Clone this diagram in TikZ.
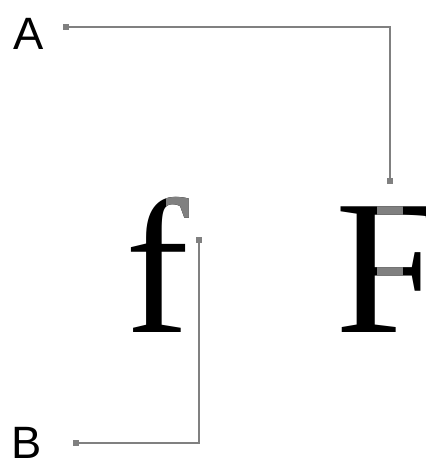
\documentclass[tikz,border=0pt]{standalone}
\usepackage{fontspec}
\setmainfont{Liberation Serif}
\newfontfamily\labelfont{Liberation Sans}
\usetikzlibrary{positioning}
\definecolor{leadgray}{gray}{0.5}
\tikzset{
  leader/.style={draw=leadgray, line width=1.5pt},
  tip/.style={fill=leadgray, minimum size=4pt, inner sep=0pt},
  glyph/.style={anchor=base west, inner sep=0pt, font=\fontsize{144}{144}\selectfont},
  tag/.style={font=\labelfont\fontsize{34}{34}\selectfont, inner sep=0pt}
}

\begin{document}
\begin{tikzpicture}[x=0.75pt,y=-0.75pt]
\useasboundingbox (0,0) rectangle (425,459);

% letters
\node[glyph] (small) at (125,332) {f};
\node[glyph] (cap) at (335,332) {F};
\begin{scope}
\clip (166,190) rectangle (215,226);
\node[glyph, text=leadgray] at (125,332) {f};
\end{scope}
\begin{scope}
\clip (377,195) rectangle (402,275);
\node[glyph, text=leadgray] at (335,332) {F};
\end{scope}

% labels
\node[tag] (A) at (29,34) {A};
\node[tag] (B) at (27,443) {B};

\node[tip] (a1) at (66,27) {};
\node[tip] (a2) at (390,181) {};
\node[tip] (b1) at (76,443) {};
\node[tip] (b2) at (199,240) {};

\draw[leader] (a1) -| (a2);
\draw[leader] (b1) -| (b2);
\end{tikzpicture}
\end{document}
